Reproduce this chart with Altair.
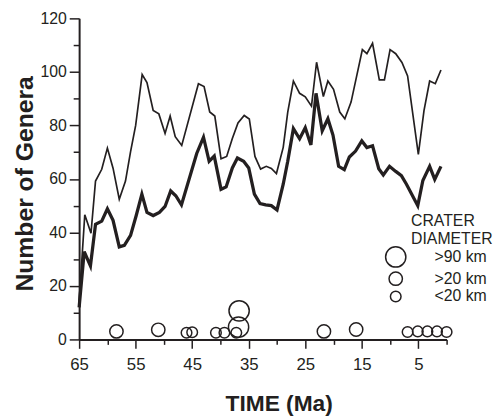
import altair as alt
import pandas as pd

# ---- data ----
thin_time = [65, 64.0, 62.9, 62.1, 61.0, 60.0, 59.0, 57.9, 56.8, 55.9, 55.0, 53.85, 53.0, 51.9,
             50.9, 49.8, 48.9, 48.0, 46.85, 43.9, 42.9, 41.9, 41.0, 39.9, 38.9, 37.9, 36.9,
             35.8, 34.9, 33.9, 32.9, 31.9, 31.0, 30.1, 28.9, 28.1, 27.1, 26.0, 25.0, 23.9,
             23.0, 21.8, 21.0, 20.0, 18.9, 18.0, 16.9, 14.9, 14.1, 13.1, 11.9, 11.0, 10.0,
             9.0, 7.9, 6.9, 5.0, 4.0, 3.0, 2.0, 1.0]
thin_genera = [14, 46.6, 39.7, 59.2, 63.6, 71.5, 64.0, 52.4, 59.2, 70.2, 80.0, 99.0, 96.0, 85.6,
               84.3, 77.0, 83.5, 75.8, 72.5, 95.6, 94.5, 85.0, 83.5, 67.5, 68.4, 75.1, 80.9,
               83.7, 82.4, 68.4, 63.7, 64.7, 63.9, 62.0, 71.8, 85.0, 96.6, 92.0, 90.7, 87.2,
               103.6, 90.8, 96.6, 93.5, 85.0, 82.5, 88.7, 108.3, 106.8, 110.7, 97.0, 97.0, 108.3,
               106.8, 103.5, 98.5, 69.2, 85.5, 96.6, 95.6, 100.7]

thick_time = [65, 64.1, 63.0, 62.1, 61.0, 60.0, 59.0, 57.9, 57.0, 55.9, 54.9, 53.9, 53.0, 51.9,
              50.8, 49.8, 48.8, 47.9, 46.9, 44.2, 43.0, 42.0, 41.1, 39.9, 39.0, 37.9, 37.0,
              35.9, 35.0, 34.0, 33.0, 32.0, 31.0, 30.0, 28.9, 28.1, 27.1, 26.0, 25.0, 24.0,
              23.1, 22.0, 21.0, 20.1, 19.1, 18.1, 17.2, 16.1, 15.0, 14.1, 13.1, 12.0, 11.2,
              10.1, 9.0, 8.0, 7.1, 5.1, 4.2, 3.0, 2.1, 1.0]
thick_genera = [12, 32.8, 27.5, 43.0, 44.2, 48.8, 44.5, 34.6, 35.2, 38.9, 46.3, 54.3, 47.5, 46.3,
                47.5, 49.7, 55.5, 53.7, 50.3, 69.5, 75.6, 66.6, 68.5, 56.1, 57.0, 64.1, 67.8,
                66.6, 64.1, 54.3, 50.8, 50.3, 50.0, 48.4, 58.0, 66.6, 78.8, 75.0, 79.1, 72.7,
                92.0, 78.0, 82.5, 76.4, 64.7, 63.5, 68.2, 70.4, 74.2, 71.7, 72.4, 63.8, 61.5,
                64.7, 62.8, 61.2, 58.0, 50.0, 59.4, 64.7, 59.8, 64.7]

crater_time = [58.4, 51.0, 46.0, 45.0, 40.8, 39.3, 37.2, 36.8, 36.7, 21.7, 16.0,
               6.9, 5.1, 3.4, 1.7, 0.0]
crater_level = [3.0, 3.6, 2.5, 2.7, 2.5, 2.5, 2.5, 4.6, 10.7, 3.0, 3.7,
                2.8, 3.0, 3.0, 3.0, 2.8]
crater_class = [">20 km", ">20 km", "<20 km", "<20 km", "<20 km", "<20 km", "<20 km",
                ">90 km", ">90 km", ">20 km", ">20 km",
                "<20 km", "<20 km", "<20 km", "<20 km", "<20 km"]
class_code = {">90 km": 100, ">20 km": 30, "<20 km": 10}
legend_title = ["CRATER", "DIAMETER"]

x_major = [65, 55, 45, 35, 25, 15, 5]
x_minor = [60, 50, 40, 30, 20, 10, 0]
y_major = [0, 20, 40, 60, 80, 100, 120]
y_minor = [10, 30, 50, 70, 90, 110]

FONT = "Liberation Sans"
INK = "#231f20"

thin_df = pd.DataFrame({"time": thin_time, "genera": thin_genera})
thick_df = pd.DataFrame({"time": thick_time, "genera": thick_genera})
crater_df = pd.DataFrame({"time": crater_time, "level": crater_level, "cls": crater_class})
crater_df["code"] = crater_df["cls"].map(class_code)
title_df = pd.DataFrame({"txt": ["\n".join(legend_title)]})

xscale = alt.Scale(domain=[0, 65], reverse=True, nice=False, zero=False)
yscale = alt.Scale(domain=[0, 120], nice=False)

x_major_axis = alt.Axis(
    orient="bottom", values=x_major, tickSize=9, tickWidth=1.5, tickColor=INK,
    domainColor=INK, domainWidth=2, grid=False,
    labelFont=FONT, labelFontSize=17, labelColor=INK, labelPadding=8,
    labelFlush=False, labelOverlap=False,
    titleFont=FONT, titleFontSize=23, titleFontWeight="bold", titleColor=INK,
    titleX=202, titleY=72, titleBaseline="alphabetic", titleAlign="center",
)
y_major_axis = alt.Axis(
    orient="left", values=y_major, tickSize=10, tickWidth=1.5, tickColor=INK,
    domainColor=INK, domainWidth=2, grid=False,
    labelFont=FONT, labelFontSize=16, labelColor=INK, labelPadding=3,
    labelFlush=False, labelOverlap=False,
    titleFont=FONT, titleFontSize=25, titleFontWeight="bold", titleColor=INK,
    titleAngle=270, titleX=-47, titleY=167, titleBaseline="alphabetic", titleAlign="center",
)
x_minor_axis = alt.Axis(orient="bottom", values=x_minor, tickSize=5, tickWidth=1.5,
                        tickColor=INK, labels=False, domain=False, grid=False)
y_minor_axis = alt.Axis(orient="left", values=y_minor, tickSize=6, tickWidth=1.5,
                        tickColor=INK, labels=False, domain=False, grid=False)

thin = alt.Chart(thin_df).mark_line(color=INK, strokeWidth=1.7, strokeJoin="miter").encode(
    x=alt.X("time:Q", scale=xscale, axis=x_major_axis, title="TIME (Ma)"),
    y=alt.Y("genera:Q", scale=yscale, axis=y_major_axis, title="Number of Genera"),
)
thick = alt.Chart(thick_df).mark_line(color=INK, strokeWidth=3.3, strokeJoin="miter").encode(
    x=alt.X("time:Q", axis=None),
    y=alt.Y("genera:Q", axis=None),
)
craters = alt.Chart(crater_df).mark_point(
    shape="circle", filled=False, color=INK, strokeWidth=1.5, opacity=1
).encode(
    x=alt.X("time:Q", axis=None),
    y=alt.Y("level:Q", axis=None),
    size=alt.Size(
        "code:Q",
        scale=alt.Scale(domain=[10, 100], range=[115, 420], zero=False),
        title=None,
        legend=alt.Legend(
            orient="none", legendX=309.5, legendY=230.5, direction="vertical",
            values=[100, 30, 10],
            labelExpr="datum.value == 100 ? '>90 km' : datum.value == 30 ? '>20 km' : '<20 km'",
            symbolType="circle", symbolStrokeColor=INK, symbolFillColor="transparent",
            symbolStrokeWidth=1.5, symbolOffset=0,
            labelFont=FONT, labelFontSize=16, labelColor=INK, labelOffset=28.2,
            rowPadding=-7, padding=0,
        ),
    ),
)
minor = alt.Chart(crater_df).mark_point(opacity=0).encode(
    x=alt.X("time:Q", axis=x_minor_axis, title=None),
    y=alt.Y("level:Q", axis=y_minor_axis, title=None),
)
legend_head = alt.Chart(title_df).mark_text(
    align="left", baseline="alphabetic", lineBreak="\n", lineHeight=18,
    font=FONT, fontSize=16, color=INK,
).encode(x=alt.value(336), y=alt.value(210), text="txt:N")

chart = (
    alt.layer(thin, thick, craters, minor, legend_head)
    .resolve_axis(x="independent", y="independent")
    .properties(
        width=372, height=325,
        autosize=alt.AutoSizeParams(type="none"),
        padding={"left": 72, "top": 8, "right": 50, "bottom": 75},
        background="white",
    )
    .configure_view(stroke=None)
)

chart.save("out.html", embed_options={"renderer": "svg", "actions": False})
